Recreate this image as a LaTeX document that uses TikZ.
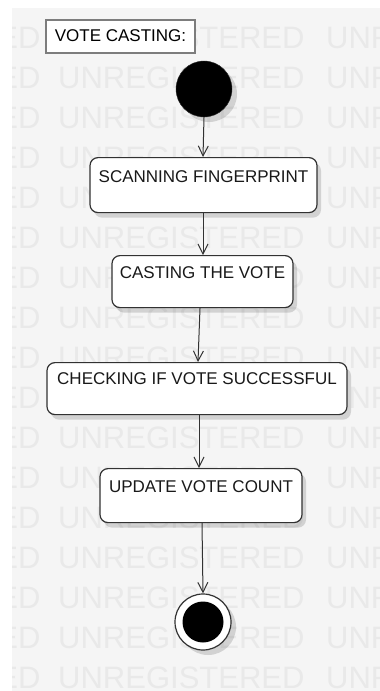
\documentclass[tikz,border=0pt]{standalone}
\usepackage{fontspec}
\setmainfont{Liberation Sans}
\usetikzlibrary{arrows.meta,shadows}
\definecolor{sheet}{RGB}{245,245,245}
\definecolor{stamp}{RGB}{233,233,233}
\definecolor{edge}{RGB}{50,50,50}
\definecolor{frame}{RGB}{125,125,125}
\tikzset{
  act/.style={draw=edge, line width=1.2pt, rounded corners=8pt, fill=white,
    inner xsep=0pt, inner ysep=0pt, anchor=north, text=black!90,
    font=\fontsize{17}{20}\selectfont,
    drop shadow={shadow xshift=4pt, shadow yshift=-5pt, fill=black, opacity=0.14}},
  flow/.style={draw=edge, line width=1pt, -{Straight Barb[length=10pt, width=10pt, line width=1pt]}},
  stampword/.style={anchor=base west, inner sep=0pt, text=stamp,
    font=\fontsize{31}{31}\selectfont},
}
\begin{document}
\begin{tikzpicture}[x=1pt, y=-1pt]
\useasboundingbox (0,0) rectangle (380,691);
\fill[white] (0,0) rectangle (380,691);
\fill[sheet] (12,8) rectangle (380,691);

% repeated background lettering
\begin{scope}
  \clip (12,8) rectangle (380,691);
  \foreach \r in {0,...,16}{
    \foreach \c in {-206,58,326}{
      \node[stampword] at (\c, 48+40*\r) {UNREGISTERED};
    }
  }
\end{scope}

% frame label
\node[draw=frame, line width=2pt, fill=white, inner xsep=0pt, inner ysep=0pt,
      minimum width=149pt, text height=21pt, text depth=12pt, anchor=north,
      font=\fontsize{17}{20}\selectfont] (title) at (120.5,19) {VOTE CASTING:};

% initial state
\node[circle, fill=black, draw=edge, minimum size=56pt, inner sep=0pt,
      drop shadow={shadow xshift=5pt, shadow yshift=-5pt, fill=black, opacity=0.14}]
      (start) at (204,89) {};

% activities
\node[act, minimum width=227pt, text height=25pt, text depth=30pt] (scan) at (203.5,157) {SCANNING FINGERPRINT};
\node[act, minimum width=181pt, text height=23pt, text depth=29pt] (cast) at (202.5,255) {CASTING THE VOTE};
\node[act, minimum width=300pt, text height=22pt, text depth=30pt] (check) at (197,362) {CHECKING IF VOTE SUCCESSFUL};
\node[act, minimum width=202pt, text height=24pt, text depth=30pt] (update) at (201,468) {UPDATE VOTE COUNT};

% final state
\node[circle, draw=edge, line width=1.2pt, fill=white, minimum size=56pt, inner sep=0pt,
      drop shadow={shadow xshift=5pt, shadow yshift=-5pt, fill=black, opacity=0.14}]
      (stop) at (203,622) {};
\node[circle, fill=black, minimum size=41pt, inner sep=0pt] (stopdot) at (stop.center) {};

% transitions
\draw[flow] (start.south) -- ([xshift=-0.5pt]scan.north);
\draw[flow] ([xshift=-0.5pt]scan.south) -- ([xshift=0.5pt]cast.north);
\draw[flow] ([xshift=-2.5pt]cast.south) -- ([xshift=1pt]check.north);
\draw[flow] ([xshift=2pt]check.south) -- ([xshift=-2pt]update.north);
\draw[flow] ([xshift=1pt]update.south) -- (stop.north);
\end{tikzpicture}
\end{document}
